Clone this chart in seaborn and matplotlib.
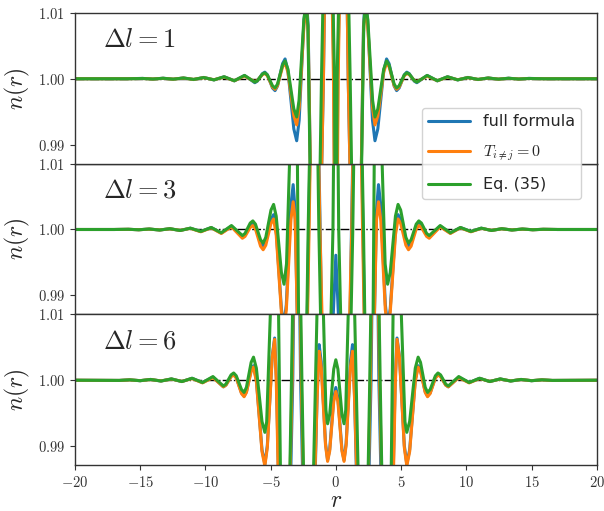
import numpy as np
import pandas as pd
import matplotlib
matplotlib.use("Agg")
import matplotlib.pyplot as plt
from matplotlib.lines import Line2D
from matplotlib.ticker import FixedLocator, FuncFormatter
import seaborn as sns

# ---------------- data (curves are symmetric in r, knots for r >= 0) ----
panel_labels = [r"$\Delta l = 1$", r"$\Delta l = 3$", r"$\Delta l = 6$"]
series_names = ["full formula", r"$T_{i\neq j}=0$", "Eq. (35)"]
series_colors = ["#1f77b4", "#ff7f0e", "#2ca02c"]

# Delta l = 1
dl1_full_r = [0, 0.15, 0.6, 0.95, 1.45, 1.95, 2.12, 2.25, 2.44, 2.625, 2.81, 3.0, 3.22, 3.445, 3.67, 3.89,
              4.08, 4.275, 4.47, 4.66, 4.855, 5.05, 5.245, 5.44, 5.63, 5.825, 6.02, 6.21, 7.0, 7.78,
              8.56, 9.34, 10.12, 10.9, 11.68, 12.46, 13.24, 14.02, 14.8, 16.0, 20.0]
dl1_full_n = [0.95, 1.0, 1.05, 1.0, 0.95, 0.986, 1.008, 1.012, 1.0089, 1.0013, 0.9937, 0.9906, 0.9924,
              0.9968, 1.0012, 1.0030, 1.0023, 1.0006, 0.9989, 0.9982, 0.9986, 0.9996, 1.0006, 1.0010,
              1.00077, 1.0002, 0.99963, 0.9994, 1.0005, 0.99968, 1.0003, 0.99982, 1.0002, 0.99988,
              1.00012, 0.99993, 1.00008, 0.99995, 1.00005, 1.0, 1.0]
dl1_t0_r = [0, 0.18, 0.6, 0.95, 1.45, 1.95, 2.12, 2.25, 2.44, 2.625, 2.81, 3.0, 3.22, 3.445, 3.67, 3.89,
            4.08, 4.275, 4.47, 4.66, 4.855, 5.05, 5.245, 5.44, 5.63, 5.825, 6.02, 6.21, 7.0, 7.78,
            8.56, 9.34, 10.12, 10.9, 11.68, 12.46, 13.24, 14.02, 14.8, 16.0, 20.0]
dl1_t0_n = [0.95, 1.0, 1.05, 1.0, 0.95, 0.986, 1.007, 1.0108, 1.0082, 1.0019, 0.9956, 0.9930, 0.99437,
            0.9977, 1.0010, 1.0024, 1.00182, 1.0004, 0.99898, 0.9984, 0.99875, 0.9996, 1.00045, 1.0008,
            1.00062, 1.00018, 0.99973, 0.99955, 1.0004, 0.9997, 1.00025, 0.99985, 1.00016, 0.9999,
            1.0001, 0.99994, 1.00006, 0.99996, 1.00004, 1.0, 1.0]
dl1_eq_r = [0, 0.1, 0.6, 1.1, 1.5, 1.97, 2.14, 2.27, 2.45, 2.635, 2.82, 3.0, 3.22, 3.445, 3.67, 3.89,
            4.08, 4.275, 4.47, 4.66, 4.855, 5.05, 5.245, 5.44, 5.63, 5.825, 6.02, 6.21, 7.0, 7.78,
            8.56, 9.34, 10.12, 10.9, 11.68, 12.46, 13.24, 14.02, 14.8, 16.0, 20.0]
dl1_eq_n = [0.95, 1.0, 1.05, 1.0, 0.95, 0.986, 1.008, 1.0115, 1.009, 1.00285, 0.99673, 0.9942, 0.99544,
            0.99845, 1.00146, 1.0027, 1.0021, 1.00065, 0.9992, 0.9986, 0.99894, 0.99975, 1.00056,
            1.0009, 1.0007, 1.0002, 0.9997, 0.9995, 1.0005, 0.9997, 1.0003, 0.99983, 1.00018, 0.9999,
            1.00011, 0.99994, 1.00007, 0.99996, 1.00004, 1.0, 1.0]

# Delta l = 3
dl3_full_r = [0, 0.2, 0.8, 1.2, 1.65, 2.08, 2.5, 2.95, 3.12, 3.27, 3.445, 3.62, 3.795, 3.97, 4.17, 4.37,
              4.57, 4.77, 4.97, 5.17, 5.37, 5.57, 5.77, 5.965, 6.16, 6.36, 6.56, 6.76, 6.96, 7.16, 8.0,
              8.78, 9.55, 10.35, 11.15, 11.93, 12.72, 13.5, 14.3, 15.1, 15.9, 17.0, 20.0]
dl3_full_n = [0.9961, 0.987, 0.95, 1.0, 1.05, 1.0, 0.95, 0.986, 1.003, 1.0068, 1.0037, 0.99615, 0.98861,
              0.9855, 0.98795, 0.99388, 0.9998, 1.00225, 1.00155, 0.99985, 0.99814, 0.99744, 0.99795,
              0.99917, 1.0004, 1.0009, 1.0006, 0.9999, 0.9992, 0.9989, 1.0005, 0.99945, 1.0003, 0.9997,
              1.0002, 0.99985, 1.00012, 0.99992, 1.00007, 0.99996, 1.00003, 1.0, 1.0]
dl3_t0_r = [0, 0.6, 1.22, 1.65, 2.05, 2.5, 2.95, 3.12, 3.27, 3.445, 3.62, 3.795, 3.97, 4.17, 4.37, 4.57,
            4.77, 4.97, 5.17, 5.37, 5.57, 5.77, 5.965, 6.16, 6.36, 6.56, 6.76, 6.96, 7.16, 8.0, 8.78,
            9.55, 10.35, 11.15, 11.93, 12.72, 13.5, 14.3, 15.1, 15.9, 17.0, 20.0]
dl3_t0_n = [0.984, 0.95, 1.0, 1.05, 1.0, 0.95, 0.986, 1.0015, 1.0042, 1.0014, 0.9946, 0.9878, 0.9850,
            0.98742, 0.9933, 0.99918, 1.0016, 1.00092, 0.99927, 0.99761, 0.99693, 0.99747, 0.99877,
            1.00006, 1.0006, 1.00032, 0.99963, 0.99895, 0.99867, 1.0004, 0.9994, 1.00025, 0.99965,
            1.00017, 0.99987, 1.0001, 0.99993, 1.00006, 0.99996, 1.00003, 1.0, 1.0]
dl3_eq_r = [0, 0.22, 0.8, 1.3, 1.65, 2.12, 2.5, 2.85, 2.95, 3.27, 3.55, 3.78, 3.97, 4.17, 4.37, 4.57,
            4.77, 4.97, 5.17, 5.37, 5.57, 5.77, 5.965, 6.16, 6.36, 6.56, 6.76, 6.96, 7.16, 8.0, 8.78,
            9.55, 10.35, 11.15, 11.93, 12.72, 13.5, 14.3, 15.1, 15.9, 17.0, 20.0]
dl3_eq_n = [1.05, 1.0, 0.95, 1.0, 1.05, 1.0, 0.95, 0.985, 1.012, 1.03, 1.01, 0.9948, 0.9917, 0.99347,
            0.99775, 1.00203, 1.0038, 1.00295, 1.00088, 0.9988, 0.99795, 0.99844, 0.99963, 1.00081,
            1.0013, 1.00098, 1.0002, 0.9994, 0.99908, 1.0006, 0.9995, 1.0003, 0.9997, 1.0002,
            0.99985, 1.00012, 0.99992, 1.00007, 0.99996, 1.00003, 1.0, 1.0]

# Delta l = 6
dl6_full_r = [0, 0.16, 0.315, 0.47, 0.63, 0.79, 0.955, 1.12, 1.28, 1.43, 1.58, 2.15, 2.7, 3.0, 3.3, 3.85,
              4.4, 4.55, 4.69, 4.88, 5.065, 5.25, 5.44, 5.66, 5.875, 6.09, 6.31, 6.49, 6.67, 6.85, 7.03,
              7.23, 7.43, 7.63, 7.83, 8.03, 8.225, 8.42, 8.62, 9.42, 10.22, 11.02, 11.8, 12.6, 13.4,
              14.2, 15.0, 15.8, 16.6, 20.0]
dl6_full_n = [0.9989, 0.9973, 0.9934, 0.98951, 0.9879, 0.99046, 0.99665, 1.00284, 1.0054, 0.998, 0.986,
              0.95, 1.0, 1.05, 1.0, 0.95, 0.986, 1.0, 1.0064, 1.0036, 0.99685, 0.9901, 0.9873, 0.98948,
              0.99475, 1.00003, 1.0022, 1.00153, 0.9999, 0.99827, 0.9976, 0.99808, 0.99925, 1.00042,
              1.0009, 1.00062, 0.99995, 0.99928, 0.9990, 1.00045, 0.99965, 1.0003, 0.9998, 1.0002,
              0.99988, 1.00012, 0.99993, 1.00006, 0.99997, 1.0]
dl6_t0_r = [0, 0.16, 0.315, 0.47, 0.63, 0.79, 0.955, 1.12, 1.28, 1.44, 1.6, 2.1, 2.65, 3.0, 3.35, 3.9,
            4.42, 4.56, 4.69, 4.88, 5.065, 5.25, 5.44, 5.66, 5.875, 6.09, 6.31, 6.49, 6.67, 6.85, 7.03,
            7.23, 7.43, 7.63, 7.83, 8.03, 8.225, 8.42, 8.62, 9.42, 10.22, 11.02, 11.8, 12.6, 13.4,
            14.2, 15.0, 15.8, 16.6, 20.0]
dl6_t0_n = [0.9983, 0.99675, 0.993, 0.98925, 0.9877, 0.99014, 0.99605, 1.00196, 1.0044, 0.997, 0.986,
            0.95, 1.0, 1.05, 1.0, 0.95, 0.986, 0.9995, 1.0062, 1.0034, 0.9966, 0.9898, 0.9870, 0.98919,
            0.9945, 0.99981, 1.0020, 1.00134, 0.99975, 0.99816, 0.9975, 0.99798, 0.99915, 1.00032,
            1.0008, 1.00054, 0.9999, 0.99926, 0.9990, 1.0004, 0.9996, 1.00025, 0.99982, 1.00017,
            0.9999, 1.0001, 0.99994, 1.00005, 0.99997, 1.0]
dl6_eq_r = [0, 0.16, 0.315, 0.47, 0.63, 0.76, 0.95, 1.28, 1.7, 2.15, 2.6, 3.0, 3.4, 3.85, 4.25, 4.4,
            4.69, 5.02, 5.3, 5.44, 5.66, 5.875, 6.09, 6.31, 6.49, 6.67, 6.85, 7.03, 7.23, 7.43, 7.63,
            7.83, 8.03, 8.225, 8.42, 8.62, 9.42, 10.22, 11.02, 11.8, 12.6, 13.4, 14.2, 15.0, 15.8,
            16.6, 20.0]
dl6_eq_n = [1.0031, 1.00168, 0.99825, 0.99482, 0.9934, 0.9955, 1.01, 1.025, 0.987, 0.95, 1.0, 1.05,
            1.0, 0.95, 0.987, 1.012, 1.02, 1.01, 0.9937, 0.9921, 0.99376, 0.9978, 1.00183, 1.0035,
            1.00272, 1.00083, 0.99894, 0.99816, 0.99859, 0.99963, 1.00067, 1.0011, 1.00081, 1.00012,
            0.99942, 0.99913, 1.00056, 0.99965, 1.0003, 0.9998, 1.0002, 0.99988, 1.00012, 0.99993,
            1.00006, 0.99997, 1.0]

x_ticks = [-20, -15, -10, -5, 0, 5, 10, 15, 20]
y_ticks = [0.99, 1.00, 1.01]

panels = [
    [(dl1_full_r, dl1_full_n), (dl1_t0_r, dl1_t0_n), (dl1_eq_r, dl1_eq_n)],
    [(dl3_full_r, dl3_full_n), (dl3_t0_r, dl3_t0_n), (dl3_eq_r, dl3_eq_n)],
    [(dl6_full_r, dl6_full_n), (dl6_t0_r, dl6_t0_n), (dl6_eq_r, dl6_eq_n)],
]


def mirrored(r, n):
    r = np.asarray(r, float)
    n = np.asarray(n, float)
    return np.concatenate([-r[::-1], r[1:]]), np.concatenate([n[::-1], n[1:]])


# ---------------- style ----------------
sns.set_style("ticks")
plt.rcParams["mathtext.fontset"] = "cm"
plt.rcParams["font.family"] = ["DejaVu Sans"]
plt.rcParams["axes.edgecolor"] = "#333333"
plt.rcParams["xtick.color"] = "#333333"
plt.rcParams["ytick.color"] = "#333333"

fig, axes = plt.subplots(3, 1, figsize=(6.04, 5.11), dpi=100, sharex=True)
fig.subplots_adjust(left=0.124, right=0.988, top=0.975, bottom=0.09, hspace=0.0)

for i, ax in enumerate(axes):
    frames = []
    for name, (r, n) in zip(series_names, panels[i]):
        rr, nn = mirrored(r, n)
        frames.append(pd.DataFrame({"r": rr, "n": nn, "series": name}))
    df = pd.concat(frames, ignore_index=True)
    ax.axhline(1.0, color="black", lw=1.0, ls="-.", zorder=1)
    sns.lineplot(data=df, x="r", y="n", hue="series", hue_order=series_names,
                 palette=series_colors, estimator=None, sort=False, linewidth=2.2,
                 legend=False, ax=ax, zorder=2)
    ax.set_xlim(-20, 20)
    ax.set_ylim(0.98715, 1.01)
    ax.yaxis.set_major_locator(FixedLocator(y_ticks))
    ax.yaxis.set_major_formatter(FuncFormatter(lambda v, p: r"$%.2f$" % v))
    ax.set_ylabel(r"$n(r)$", fontsize=17, labelpad=4)
    ax.set_xlabel("")
    ax.tick_params(axis="both", labelsize=10.5, direction="out", length=3.5)
    ax.text(0.053, 0.82, panel_labels[i], transform=ax.transAxes, fontsize=19,
            va="center", ha="left")
    for s in ax.spines.values():
        s.set_linewidth(1.0)
    if i < 2:
        ax.tick_params(axis="x", bottom=False, labelbottom=False)

axes[2].xaxis.set_major_locator(FixedLocator(x_ticks))
axes[2].xaxis.set_major_formatter(FuncFormatter(lambda v, p: r"$%d$" % v))
axes[2].set_xlabel(r"$r$", fontsize=17, labelpad=-1)

axes[0].set_zorder(5)
handles = [Line2D([0], [0], color=c, lw=2.2) for c in series_colors]
leg = axes[0].legend(handles, series_names, loc="upper right", bbox_to_anchor=(0.97, 0.37),
                     borderaxespad=0.0, fontsize=11.5, handlelength=2.6, labelspacing=0.9,
                     frameon=True, fancybox=True, framealpha=0.85, edgecolor="#cccccc")
leg.set_zorder(10)

fig.savefig("out.png", dpi=100)
